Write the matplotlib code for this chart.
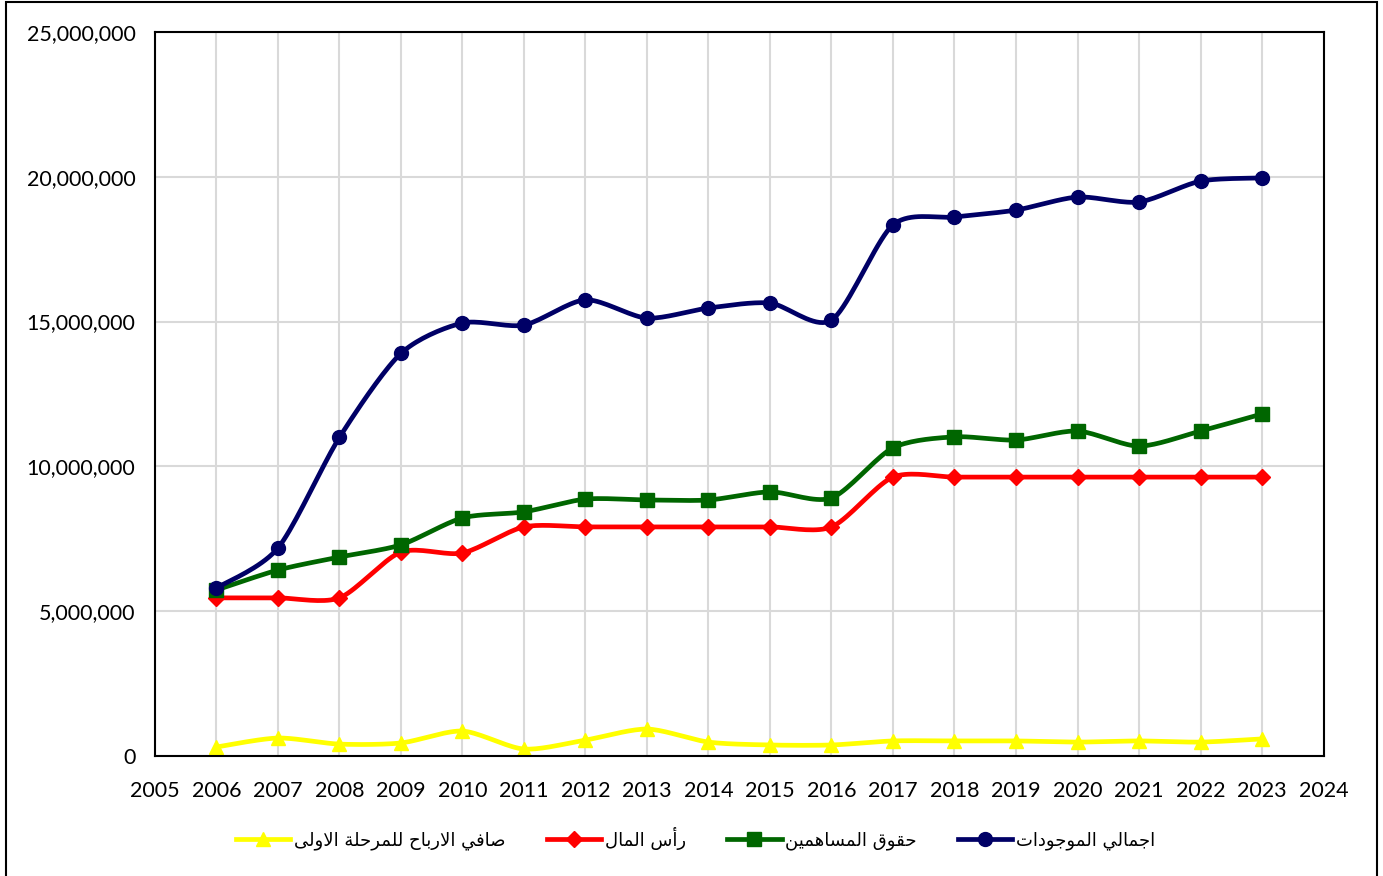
import numpy as np
import matplotlib
matplotlib.use("Agg")
from matplotlib import pyplot as plt
from matplotlib.ticker import FuncFormatter
from matplotlib.patches import Rectangle

years = list(range(2006, 2024))
total_assets = [5.80, 7.18, 11.0, 13.9, 14.95, 14.88, 15.75, 15.12, 15.47, 15.64,
                15.05, 18.34, 18.61, 18.85, 19.30, 19.13, 19.85, 19.96]
equity = [5.73, 6.42, 6.87, 7.29, 8.22, 8.43, 8.87, 8.84, 8.84, 9.12,
          8.91, 10.64, 11.02, 10.91, 11.22, 10.70, 11.22, 11.81]
capital = [5.46, 5.46, 5.46, 7.04, 7.01, 7.91, 7.91, 7.91, 7.91, 7.91,
           7.91, 9.63, 9.63, 9.63, 9.63, 9.63, 9.63, 9.63]
net_profit = [0.31, 0.62, 0.41, 0.45, 0.86, 0.24, 0.55, 0.93, 0.48, 0.38,
              0.38, 0.52, 0.52, 0.52, 0.48, 0.52, 0.48, 0.59]

labels = ["صافي الارباح للمرحلة الاولى", "رأس المال", "حقوق المساهمين", "اجمالي الموجودات"]

# minimal arabic shaping (matplotlib has no shaping / bidi)
FORMS = {
    "ا": ("\uFE8D", "\uFE8E", None, None), "أ": ("\uFE83", "\uFE84", None, None),
    "ب": ("\uFE8F", "\uFE90", "\uFE91", "\uFE92"), "ة": ("\uFE93", "\uFE94", None, None),
    "ت": ("\uFE95", "\uFE96", "\uFE97", "\uFE98"), "ج": ("\uFE9D", "\uFE9E", "\uFE9F", "\uFEA0"),
    "ح": ("\uFEA1", "\uFEA2", "\uFEA3", "\uFEA4"), "د": ("\uFEA9", "\uFEAA", None, None),
    "ر": ("\uFEAD", "\uFEAE", None, None), "س": ("\uFEB1", "\uFEB2", "\uFEB3", "\uFEB4"),
    "ص": ("\uFEB9", "\uFEBA", "\uFEBB", "\uFEBC"), "ف": ("\uFED1", "\uFED2", "\uFED3", "\uFED4"),
    "ق": ("\uFED5", "\uFED6", "\uFED7", "\uFED8"), "ل": ("\uFEDD", "\uFEDE", "\uFEDF", "\uFEE0"),
    "م": ("\uFEE1", "\uFEE2", "\uFEE3", "\uFEE4"), "ن": ("\uFEE5", "\uFEE6", "\uFEE7", "\uFEE8"),
    "ه": ("\uFEE9", "\uFEEA", "\uFEEB", "\uFEEC"), "و": ("\uFEED", "\uFEEE", None, None),
    "ى": ("\uFEEF", "\uFEF0", None, None), "ي": ("\uFEF1", "\uFEF2", "\uFEF3", "\uFEF4"),
}
LAMALEF = {"ا": ("\uFEFB", "\uFEFC"), "أ": ("\uFEF7", "\uFEF8")}

def dual(c):
    return c in FORMS and FORMS[c][2] is not None

def shape(s):
    out = []
    i = 0
    while i < len(s):
        c = s[i]
        if c not in FORMS:
            out.append(c)
            i += 1
            continue
        prev = s[i - 1] if i > 0 else ""
        joins_prev = dual(prev)
        if c == "ل" and i + 1 < len(s) and s[i + 1] in LAMALEF:
            iso, fin = LAMALEF[s[i + 1]]
            out.append(fin if joins_prev else iso)
            i += 2
            continue
        nxt = s[i + 1] if i + 1 < len(s) else ""
        joins_next = dual(c) and nxt in FORMS
        iso, fin, ini, med = FORMS[c]
        if joins_prev and joins_next:
            out.append(med)
        elif joins_prev:
            out.append(fin)
        elif joins_next:
            out.append(ini)
        else:
            out.append(iso)
        i += 1
    return "".join(out)[::-1]

def smooth(x, y, n=20):
    # catmull-rom curve through the points, like excel's smoothed line
    x = np.asarray(x, float); y = np.asarray(y, float)
    px = np.concatenate([[x[0]], x, [x[-1]]]); py = np.concatenate([[y[0]], y, [y[-1]]])
    xs, ys = [], []
    t = np.linspace(0, 1, n)
    for k in range(1, len(px) - 2):
        for p, acc in ((px, xs), (py, ys)):
            p0, p1, p2, p3 = p[k - 1], p[k], p[k + 1], p[k + 2]
            m1 = (p2 - p0) / 2 * 0.8
            m2 = (p3 - p1) / 2 * 0.8
            h00 = 2*t**3 - 3*t**2 + 1; h10 = t**3 - 2*t**2 + t
            h01 = -2*t**3 + 3*t**2; h11 = t**3 - t**2
            acc.extend(h00*p1 + h10*m1 + h01*p2 + h11*m2)
    return np.array(xs), np.array(ys)

plt.rcParams['font.family'] = ['Lato', 'DejaVu Sans']

fig = plt.figure(figsize=(13.83, 8.76), dpi=100)
ax = fig.add_axes([0.112, 0.137, 0.845, 0.8265])

series = [
    (net_profit, "#FFFF00", "^", 10),
    (capital, "#FF0000", "D", 8),
    (equity, "#006600", "s", 10),
    (total_assets, "#000066", "o", 10),
]
handles = []
for (vals, col, mk, ms), lab in zip(series, labels):
    v = np.array(vals) * 1e6
    sx, sy = smooth(years, v)
    ax.plot(sx, sy, color=col, lw=3.4, solid_capstyle='round')
    ax.plot(years, v, ls='none', marker=mk, ms=ms, color=col)
    h, = ax.plot([], [], color=col, lw=3.4, marker=mk, ms=ms)
    handles.append(h)

ax.set_xlim(2005, 2024)
ax.set_ylim(0, 25e6)
ax.set_xticks(range(2005, 2025))
ax.set_yticks(np.arange(0, 25e6 + 1, 5e6))
ax.yaxis.set_major_formatter(FuncFormatter(lambda v, p: "{:,.0f}".format(v)))
ax.tick_params(labelsize=15.5, length=0)
ax.tick_params(axis='x', pad=18)
ax.tick_params(axis='y', pad=14)
ax.grid(True, color="#d9d9d9", lw=1.5)
ax.set_axisbelow(True)
for sp in ax.spines.values():
    sp.set_linewidth(1.5)
    sp.set_color("black")

fig.legend(handles, [shape(l) for l in labels], ncol=4, loc="center",
           bbox_to_anchor=(0.503, 0.043), frameon=False, handlelength=3.0,
           columnspacing=2.3, handletextpad=0.2,
           prop={'family': ['DejaVu Sans'], 'size': 13})

fig.patches.append(Rectangle((6 / 1383, -0.05), 1371 / 1383, 1.05 - 2 / 876,
                             transform=fig.transFigure, fill=False, lw=1.5, ec="black"))

fig.savefig("out.png", dpi=100)
